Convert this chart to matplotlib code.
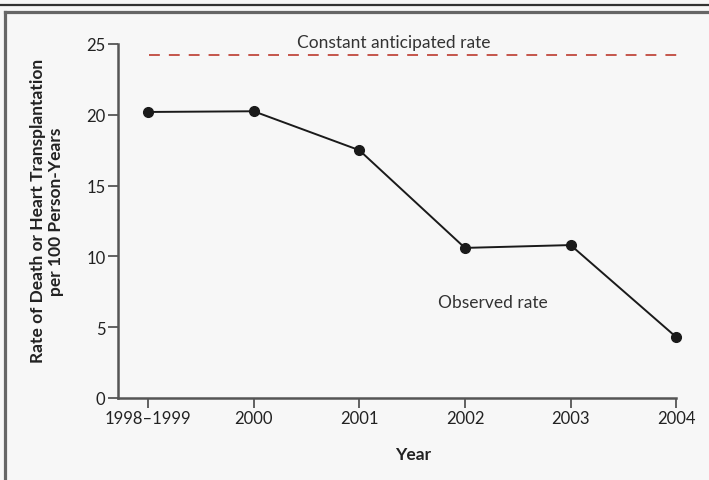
import matplotlib.pyplot as plt
from matplotlib.lines import Line2D

plt.rcParams['font.family'] = ['Lato', 'DejaVu Sans']

years = ['1998\u20131999', '2000', '2001', '2002', '2003', '2004']
observed = [20.2, 20.25, 17.5, 10.6, 10.8, 4.3]
anticipated = 24.25
yticks = [0, 5, 10, 15, 20, 25]

bg = '#f7f7f7'
axis_col = '#555555'
txt_col = '#222222'

fig = plt.figure(figsize=(7.09, 4.81), dpi=100, facecolor=bg)
ax = fig.add_axes([118 / 709, 1 - 399 / 481, (709 - 118) / 709, (399 - 45) / 481])
ax.set_facecolor(bg)

x = list(range(len(years)))
ax.plot(x, observed, color='#1a1a1a', lw=1.4, marker='o', ms=7, zorder=3)
ax.plot([0.01, 5.07], [anticipated, anticipated], color='#c0483d', lw=1.3,
        dashes=(6, 5), clip_on=False)

ax.text(2.33, 25.15, 'Constant anticipated rate', ha='center', va='center',
        fontsize=12.5, color='#333333')
ax.text(3.26, 6.78, 'Observed rate', ha='center', va='center',
        fontsize=12.5, color='#333333')

ax.set_xlim(-0.284, 5.31)
ax.set_ylim(0, 25)
ax.set_xticks(x)
ax.set_xticklabels(years)
ax.set_yticks(yticks)

for s in ['top', 'right']:
    ax.spines[s].set_visible(False)
for s in ['left', 'bottom']:
    ax.spines[s].set_color(axis_col)
    ax.spines[s].set_linewidth(1.8)
ax.spines['bottom'].set_bounds(-0.284, 5)
ax.tick_params(labelcolor=txt_col, labelsize=12, length=7.5, width=1.3,
               color=axis_col, pad=1.5)

ax.set_xlabel('Year', fontsize=12.5, fontweight='bold', color=txt_col, labelpad=14)
ax.set_ylabel('Rate of Death or Heart Transplantation\nper 100 Person-Years',
              fontsize=12.5, fontweight='bold', color=txt_col, labelpad=16,
              linespacing=1.15)
ax.yaxis.label.set_y(0.53)

# frame lines around the figure
fig.add_artist(Line2D([0, 1], [1 - 5.7 / 481, 1 - 5.7 / 481], color='#333333', lw=1.6,
                      transform=fig.transFigure))
fig.add_artist(Line2D([4.5 / 709, 1], [1 - 13.3 / 481, 1 - 13.3 / 481], color='#666666',
                      lw=2.3, transform=fig.transFigure))
fig.add_artist(Line2D([4.5 / 709, 4.5 / 709], [0, 1 - 13.3 / 481], color='#666666',
                      lw=2.3, transform=fig.transFigure))

fig.savefig('out.png', dpi=100, facecolor=bg)
